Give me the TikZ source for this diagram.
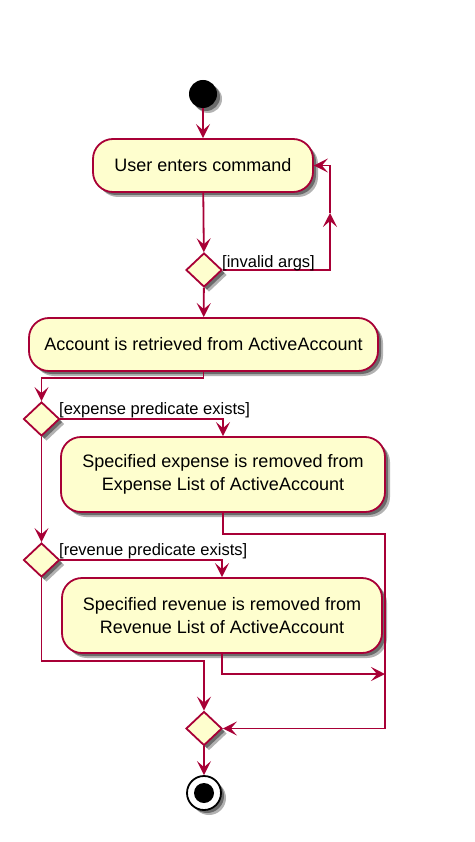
\documentclass[tikz,border=0pt]{standalone}
\usepackage{fontspec}
\setmainfont{Liberation Sans}
\usetikzlibrary{shapes.geometric,arrows.meta,shadows}
\newlength{\du}
\setlength{\du}{1pt}
\definecolor{umlline}{rgb}{0.658824, 0.000000, 0.211765}
\definecolor{umlfill}{rgb}{0.996078, 0.996078, 0.807843}
\tikzset{
  umlshadow/.style={drop shadow={shadow xshift=5\du, shadow yshift=-5\du, fill=black, opacity=0.3},
                    drop shadow={shadow xshift=3\du, shadow yshift=-3\du, fill=black, opacity=0.4}},
  action/.style={draw=umlline, fill=umlfill, line width=1.8\du, rectangle, rounded corners=20\du, align=center, inner sep=0pt, font=\fontsize{18}{23}\selectfont, umlshadow},
  branch/.style={draw=umlline, fill=umlfill, line width=1.8\du, diamond, inner sep=0pt, minimum width=36\du, minimum height=34\du, umlshadow},
  flow/.style={draw=umlline, line width=1.8\du, -{Stealth[length=14pt, width=14pt, inset=6pt]}},
  guard/.style={anchor=base west, inner sep=0pt, font=\fontsize{16.5}{19}\selectfont}
}
\begin{document}
\begin{tikzpicture}
\pgftransformxscale{1.000000}
\pgftransformyscale{-1.000000}
\useasboundingbox (0.000000\du,0.000000\du) rectangle (474.000000\du,842.000000\du);
% activity nodes
\node[circle, fill=black, minimum size=28\du, inner sep=0pt, umlshadow] (start) at (203.000000\du,94.000000\du){};
\node[action, minimum width=220\du, minimum height=53\du] (usercmd) at (203.000000\du,165.500000\du){User enters command};
\node[branch] (invalidchk) at (204.000000\du,270.000000\du){};
\node[action, minimum width=349\du, minimum height=53\du] (retrieve) at (203.500000\du,344.500000\du){Account is retrieved from ActiveAccount};
\node[branch] (expchk) at (41.500000\du,419.000000\du){};
\node[action, minimum width=324\du, minimum height=75\du] (rmexp) at (223.000000\du,474.500000\du){Specified expense is removed from\\Expense List of ActiveAccount};
\node[branch] (revchk) at (41.500000\du,560.000000\du){};
\node[action, minimum width=320\du, minimum height=75\du] (rmrev) at (222.000000\du,615.500000\du){Specified revenue is removed from\\Revenue List of ActiveAccount};
\node[branch] (merge) at (204.000000\du,728.500000\du){};
\node[circle, draw=black, fill=white, line width=1.8\du, minimum size=34\du, inner sep=0pt, umlshadow] (stop) at (204.000000\du,793.000000\du){};
\node[circle, fill=black, minimum size=20\du, inner sep=0pt] (stopdot) at (stop.center){};
% bend points
\coordinate (invloop) at (330.000000\du,270.000000\du);
\coordinate (invmid) at (330.000000\du,213.000000\du);
\coordinate (invtop) at (330.000000\du,165.500000\du);
\coordinate (retbend) at (203.500000\du,378.000000\du);
\coordinate (expright) at (385.000000\du,534.000000\du);
\coordinate (revjoin) at (385.000000\du,674.000000\du);
\coordinate (revbend) at (204.000000\du,661.000000\du);
% connectors
\draw[flow] (start) -- (usercmd);
\draw[flow] (usercmd) -- (invalidchk);
\draw[flow] (invalidchk.east) -- (invloop) -- (invmid);
\draw[flow] (invmid) -- (invtop) -- (usercmd.east);
\draw[flow] (invalidchk) -- (retrieve);
\draw[flow] (retrieve.south) -- (retbend) -| (expchk.north);
\draw[flow] (expchk.east) -| (rmexp.north);
\draw[flow] (expchk) -- (revchk);
\draw[flow] (rmexp.south) |- (expright) |- (merge.east);
\draw[flow] (revchk.east) -| (rmrev.north);
\draw[flow] (rmrev.south) |- (revjoin);
\draw[flow] (revchk.south) |- (revbend) -- (merge.north);
\draw[flow] (merge) -- (stop);
% guards
\node[guard] (invlabel) at (222.000000\du,267.000000\du){[invalid args]};
\node[guard] (explabel) at (59.000000\du,414.000000\du){[expense predicate exists]};
\node[guard] (revlabel) at (59.000000\du,555.000000\du){[revenue predicate exists]};
\end{tikzpicture}
\end{document}
